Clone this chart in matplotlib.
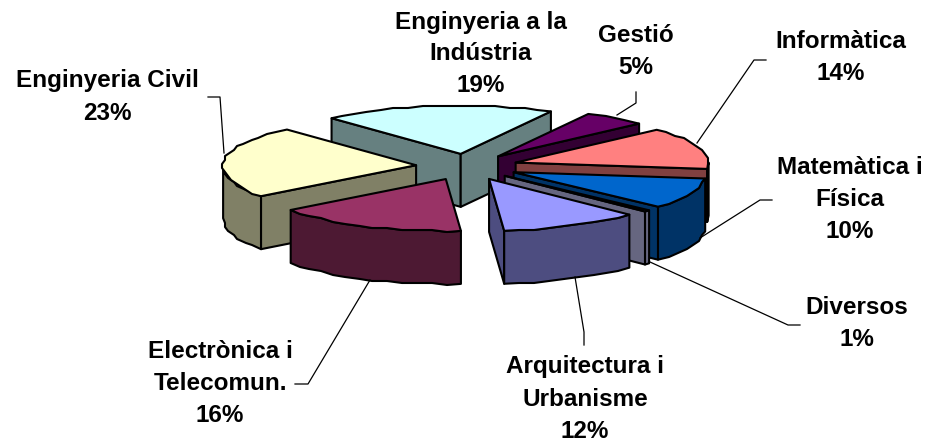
import numpy as np
import matplotlib
matplotlib.use("Agg")
import matplotlib.pyplot as plt
from matplotlib.patches import Polygon

# clockwise from the top slice
categories = ["Enginyeria a la\nIndústria", "Gestió", "Informàtica", "Matemàtica i\nFísica", "Diversos",
              "Arquitectura i\nUrbanisme", "Electrònica i\nTelecomun.", "Enginyeria Civil"]
pct_labels = [19, 5, 14, 10, 1, 12, 16, 23]
# shares, they round to the labels
shares = [19.4, 5.3, 13.9, 9.6, 0.5, 11.7, 16.1, 23.47]
top_colors = ["#CCFFFF", "#660066", "#FF8080", "#0066CC", "#CCCCFF", "#9999FF", "#993366", "#FFFFCC"]
side_colors = ["#668080", "#330033", "#804040", "#003366", "#666680", "#4D4D80", "#4D1933", "#808066"]

# painter's order, back to front
draw_order = [0, 1, 7, 2, 3, 6, 4, 5]

label_centers = [(481, 54), (636, 52), (841, 58), (850, 199), (857, 323), (585, 399), (220, 384), (107, 97)]
leaders = [
    None,
    [(636, 92), (636, 103), (617, 115)],
    [(766, 60), (754, 60), (697, 143)],
    [(772, 200), (760, 200), (700, 238)],
    [(800, 325), (788, 325), (650, 262)],
    [(584, 345), (584, 332), (575, 277)],
    [(295, 384), (308, 384), (370, 280)],
    [(208, 97), (220, 97), (224, 153)],
]

cx, cy = 467, 166.5
rx = 193
ry_back, ry_front = 48, 52  # back of the pie is squashed a bit
depth = 53
explode = 0.265
start_angle = -42


def pt(ox, oy, ang, r=1.0):
    a = np.radians(ang)
    ry = ry_back if np.cos(a) > 0 else ry_front
    return ox + r * rx * np.sin(a), oy - r * ry * np.cos(a)


def arc(ox, oy, a0, a1):
    # coarse steps give the jagged rim of the original
    angs = np.linspace(a0, a1, max(int(abs(a1 - a0) / 4), 2))
    pts = [pt(ox, oy, t) for t in angs]
    return [pts[0]] + [(round(x / 3) * 3, round(y / 2) * 2) for x, y in pts[1:-1]] + [pts[-1]]


fig = plt.figure(figsize=(9.4, 4.47), dpi=100)
ax = fig.add_axes([0, 0, 1, 1])
ax.set_xlim(0, 940)
ax.set_ylim(447, 0)
ax.axis("off")

edges = start_angle + np.cumsum([0] + shares) * 360 / sum(shares)

for i in draw_order:
    a0, a1 = edges[i], edges[i + 1]
    ox, oy = pt(cx, cy, (a0 + a1) / 2, explode)
    kw = dict(edgecolor="black", linewidth=1.5, joinstyle="round")

    # radial walls, only those facing the viewer
    if np.sin(np.radians(a0)) < 0:
        c = pt(ox, oy, a0)
        ax.add_patch(Polygon([(ox, oy), c, (c[0], c[1] + depth), (ox, oy + depth)], facecolor=side_colors[i], **kw))
    if np.sin(np.radians(a1)) > 0:
        c = pt(ox, oy, a1)
        ax.add_patch(Polygon([(ox, oy), c, (c[0], c[1] + depth), (ox, oy + depth)], facecolor=side_colors[i], **kw))

    # outer rim, front half only
    for k in (0, 360):
        lo, hi = max(a0, 90 + k), min(a1, 270 + k)
        if hi > lo:
            rim = arc(ox, oy, lo, hi)
            low = [(x, y + depth) for x, y in rim[::-1]]
            ax.add_patch(Polygon(rim + low, facecolor=side_colors[i], **kw))

    ax.add_patch(Polygon([(ox, oy)] + arc(ox, oy, a0, a1), facecolor=top_colors[i], **kw))

for name, pct, pos, line in zip(categories, pct_labels, label_centers, leaders):
    ax.text(pos[0], pos[1], f"{name}\n{pct}%", ha="center", va="center", ma="center",
            family="Liberation Sans", fontweight="bold", fontsize=17.5, linespacing=1.5, color="black")
    if line:
        ax.plot(*zip(*line), color="black", linewidth=0.9)

fig.savefig("out.png", dpi=100)
